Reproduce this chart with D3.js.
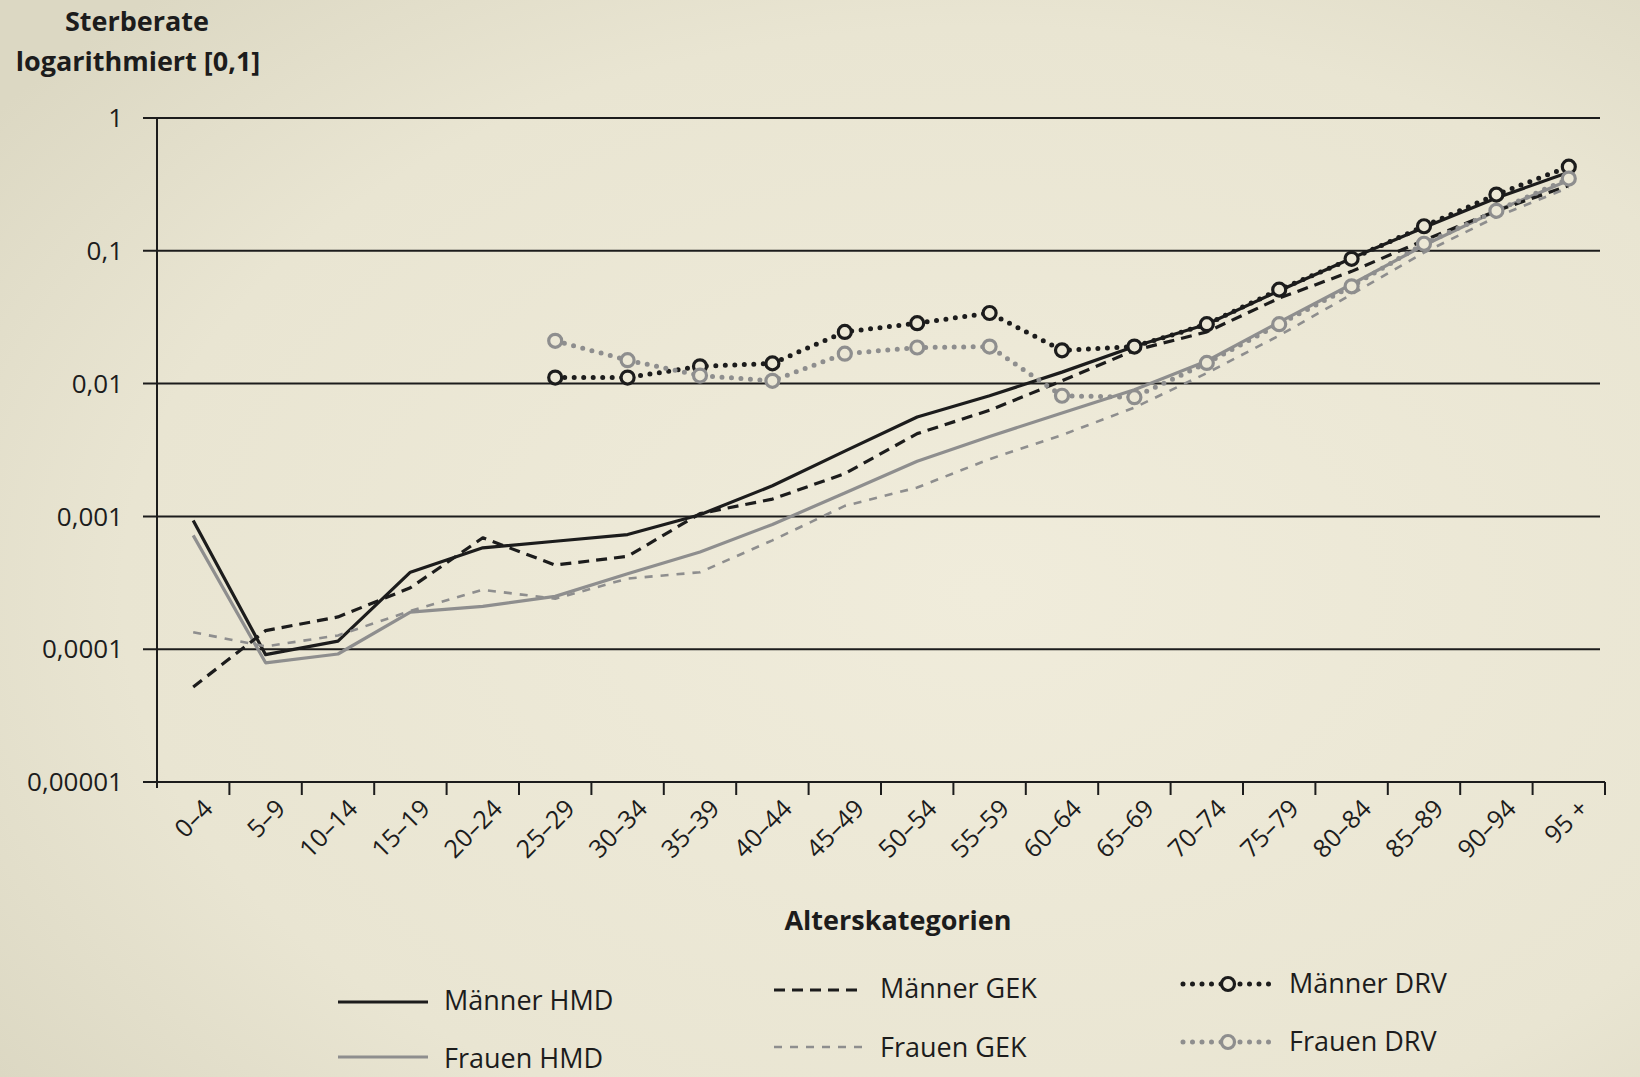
<!DOCTYPE html>
<html>

<head>
    <meta charset="UTF-8" />
    <title>Sterberate</title>
    <style>
        body {
            margin: 0;
            padding: 0;
            overflow: hidden;
            font-family: 'Open Sans', 'Noto Sans', sans-serif;
        }
    </style>
</head>

<body>
    <div class="container"></div>

    <script src="https://cdnjs.cloudflare.com/ajax/libs/d3/7.8.5/d3.min.js"></script>
    <script>
        // data
        const categories = ["0–4", "5–9", "10–14", "15–19", "20–24", "25–29", "30–34", "35–39", "40–44", "45–49",
            "50–54", "55–59", "60–64", "65–69", "70–74", "75–79", "80–84", "85–89", "90–94", "95 +"];

        const maennerHMD = [0.00093, 0.000091, 0.000115, 0.00038, 0.00058, 0.00065, 0.00073, 0.00103, 0.0017, 0.0031,
            0.0056, 0.0081, 0.0122, 0.019, 0.028, 0.05, 0.088, 0.15, 0.25, 0.39];
        const frauenHMD = [0.00072, 0.000079, 0.000092, 0.00019, 0.00021, 0.00025, 0.00037, 0.00054, 0.00087, 0.0015,
            0.0026, 0.004, 0.006, 0.009, 0.0148, 0.029, 0.056, 0.11, 0.2, 0.34];
        const maennerGEK = [0.000052, 0.000138, 0.000175, 0.00029, 0.00069, 0.00043, 0.0005, 0.00105, 0.00135, 0.0021,
            0.0042, 0.0063, 0.0105, 0.0178, 0.0245, 0.044, 0.07, 0.12, 0.2, 0.31];
        const frauenGEK = [0.000134, 0.000105, 0.000127, 0.000194, 0.00028, 0.00024, 0.00034, 0.00038, 0.00066, 0.0012,
            0.00165, 0.0027, 0.0041, 0.0066, 0.012, 0.023, 0.047, 0.097, 0.18, 0.3];
        const maennerDRV = [null, null, null, null, null, 0.0111, 0.0111, 0.0135, 0.0142, 0.0245,
            0.0285, 0.034, 0.0178, 0.019, 0.028, 0.051, 0.087, 0.153, 0.265, 0.43];
        const frauenDRV = [null, null, null, null, null, 0.021, 0.015, 0.0115, 0.0105, 0.0168,
            0.0187, 0.019, 0.0081, 0.0079, 0.0143, 0.028, 0.054, 0.113, 0.2, 0.35];

        const yTicks = [1, 0.1, 0.01, 0.001, 0.0001, 0.00001];
        const yTickLabels = ["1", "0,1", "0,01", "0,001", "0,0001", "0,00001"];

        const w = 1640;
        const h = 1077;
        const ink = '#1c1c1c';
        const grey = '#8e8e8e';
        const paper = '#ece8d6';

        // series styles (kept apart from the values)
        const series = [
            { name: 'Männer HMD', values: maennerHMD, color: ink, width: 3.2, dash: null, marker: false },
            { name: 'Frauen HMD', values: frauenHMD, color: grey, width: 3.2, dash: null, marker: false },
            { name: 'Männer GEK', values: maennerGEK, color: ink, width: 3.2, dash: '11 7', marker: false },
            { name: 'Frauen GEK', values: frauenGEK, color: grey, width: 2.6, dash: '8 8', marker: false },
            { name: 'Männer DRV', values: maennerDRV, color: ink, width: 5, dash: '0 9.5', marker: true },
            { name: 'Frauen DRV', values: frauenDRV, color: grey, width: 5, dash: '0 9.5', marker: true }
        ];

        // legend placement: [x of sample start, y of sample, y of text baseline]
        const legendPos = [
            [338, 1002, 1010], [338, 1057, 1068],
            [774, 990, 998], [774, 1047, 1057],
            [1183, 984, 993], [1183, 1042, 1051]
        ];

        const svg = d3.select('.container').append('svg')
            .attr('width', w)
            .attr('height', h);

        const defs = svg.append('defs');
        const grad = defs.append('radialGradient')
            .attr('id', 'paper')
            .attr('cx', '60%').attr('cy', '55%').attr('r', '75%');
        grad.append('stop').attr('offset', '0%').attr('stop-color', '#f0ecdb');
        grad.append('stop').attr('offset', '70%').attr('stop-color', '#e9e5d2');
        grad.append('stop').attr('offset', '100%').attr('stop-color', '#dcd8c3');

        svg.append('rect')
            .attr('width', w)
            .attr('height', h)
            .attr('fill', 'url(#paper)');

        const x = d3.scaleBand().domain(categories).range([157, 1605]);
        const y = d3.scaleLog().domain([0.00001, 1]).range([782, 118]);
        const cx = d => x(d) + x.bandwidth() / 2;

        // gridlines + y ticks
        svg.append('g')
            .selectAll('line')
            .data(yTicks)
            .join('line')
            .attr('x1', 143)
            .attr('x2', (d, i) => i === yTicks.length - 1 ? 1605 : 1600)
            .attr('y1', d => y(d))
            .attr('y2', d => y(d))
            .attr('stroke', ink)
            .attr('stroke-width', 2);

        svg.append('line')
            .attr('x1', 157).attr('x2', 157)
            .attr('y1', y(1)).attr('y2', y(0.00001) + 6)
            .attr('stroke', ink)
            .attr('stroke-width', 2);

        svg.append('g')
            .selectAll('text')
            .data(yTicks)
            .join('text')
            .attr('x', 123)
            .attr('y', d => y(d))
            .attr('dy', '0.35em')
            .attr('text-anchor', 'end')
            .attr('font-size', 26)
            .attr('fill', ink)
            .text((d, i) => yTickLabels[i]);

        // x ticks at the band edges
        svg.append('g')
            .selectAll('line')
            .data(categories)
            .join('line')
            .attr('x1', d => x(d) + x.bandwidth())
            .attr('x2', d => x(d) + x.bandwidth())
            .attr('y1', y(0.00001))
            .attr('y2', y(0.00001) + 13)
            .attr('stroke', ink)
            .attr('stroke-width', 2);

        svg.append('g')
            .selectAll('text')
            .data(categories)
            .join('text')
            .attr('transform', d => `translate(${cx(d) + 15},${y(0.00001) + 22}) rotate(-45)`)
            .attr('text-anchor', 'end')
            .attr('dy', '0.35em')
            .attr('font-size', 25)
            .attr('fill', ink)
            .text(d => d);

        // titles
        svg.append('text')
            .attr('x', 137).attr('y', 31)
            .attr('text-anchor', 'middle')
            .attr('font-size', 27)
            .attr('font-weight', 'bold')
            .attr('fill', ink)
            .text('Sterberate');
        svg.append('text')
            .attr('x', 138).attr('y', 71)
            .attr('text-anchor', 'middle')
            .attr('font-size', 27)
            .attr('font-weight', 'bold')
            .attr('fill', ink)
            .text('logarithmiert [0,1]');
        svg.append('text')
            .attr('x', 898).attr('y', 930)
            .attr('text-anchor', 'middle')
            .attr('font-size', 27)
            .attr('font-weight', 'bold')
            .attr('fill', ink)
            .text('Alterskategorien');

        // lines
        const lineGen = d3.line()
            .defined(d => d.v != null)
            .x(d => cx(d.c))
            .y(d => y(d.v));

        const plot = svg.append('g');

        series.forEach(s => {
            const pts = categories.map((c, i) => ({ c: c, v: s.values[i] }));
            plot.append('path')
                .attr('d', lineGen(pts))
                .attr('fill', 'none')
                .attr('stroke', s.color)
                .attr('stroke-width', s.width)
                .attr('stroke-dasharray', s.dash)
                .attr('stroke-linecap', s.marker ? 'round' : 'butt')
                .attr('stroke-linejoin', 'round');

            if (s.marker) {
                plot.append('g')
                    .selectAll('circle')
                    .data(pts.filter(d => d.v != null))
                    .join('circle')
                    .attr('cx', d => cx(d.c))
                    .attr('cy', d => y(d.v))
                    .attr('r', 6.5)
                    .attr('fill', paper)
                    .attr('stroke', s.color)
                    .attr('stroke-width', 3.2);
            }
        });

        // legend
        const legend = svg.append('g');
        series.forEach((s, i) => {
            const [lx, ly, ty] = legendPos[i];
            const len = 90;
            legend.append('line')
                .attr('x1', lx).attr('x2', lx + len)
                .attr('y1', ly).attr('y2', ly)
                .attr('stroke', s.color)
                .attr('stroke-width', s.width)
                .attr('stroke-dasharray', s.dash)
                .attr('stroke-linecap', s.marker ? 'round' : 'butt');
            if (s.marker) {
                legend.append('circle')
                    .attr('cx', lx + len / 2).attr('cy', ly)
                    .attr('r', 6.5)
                    .attr('fill', paper)
                    .attr('stroke', s.color)
                    .attr('stroke-width', 3.2);
            }
            legend.append('text')
                .attr('x', lx + len + 16)
                .attr('y', ty)
                .attr('font-size', 27)
                .attr('fill', ink)
                .text(s.name);
        });
    </script>
</body>

</html>
